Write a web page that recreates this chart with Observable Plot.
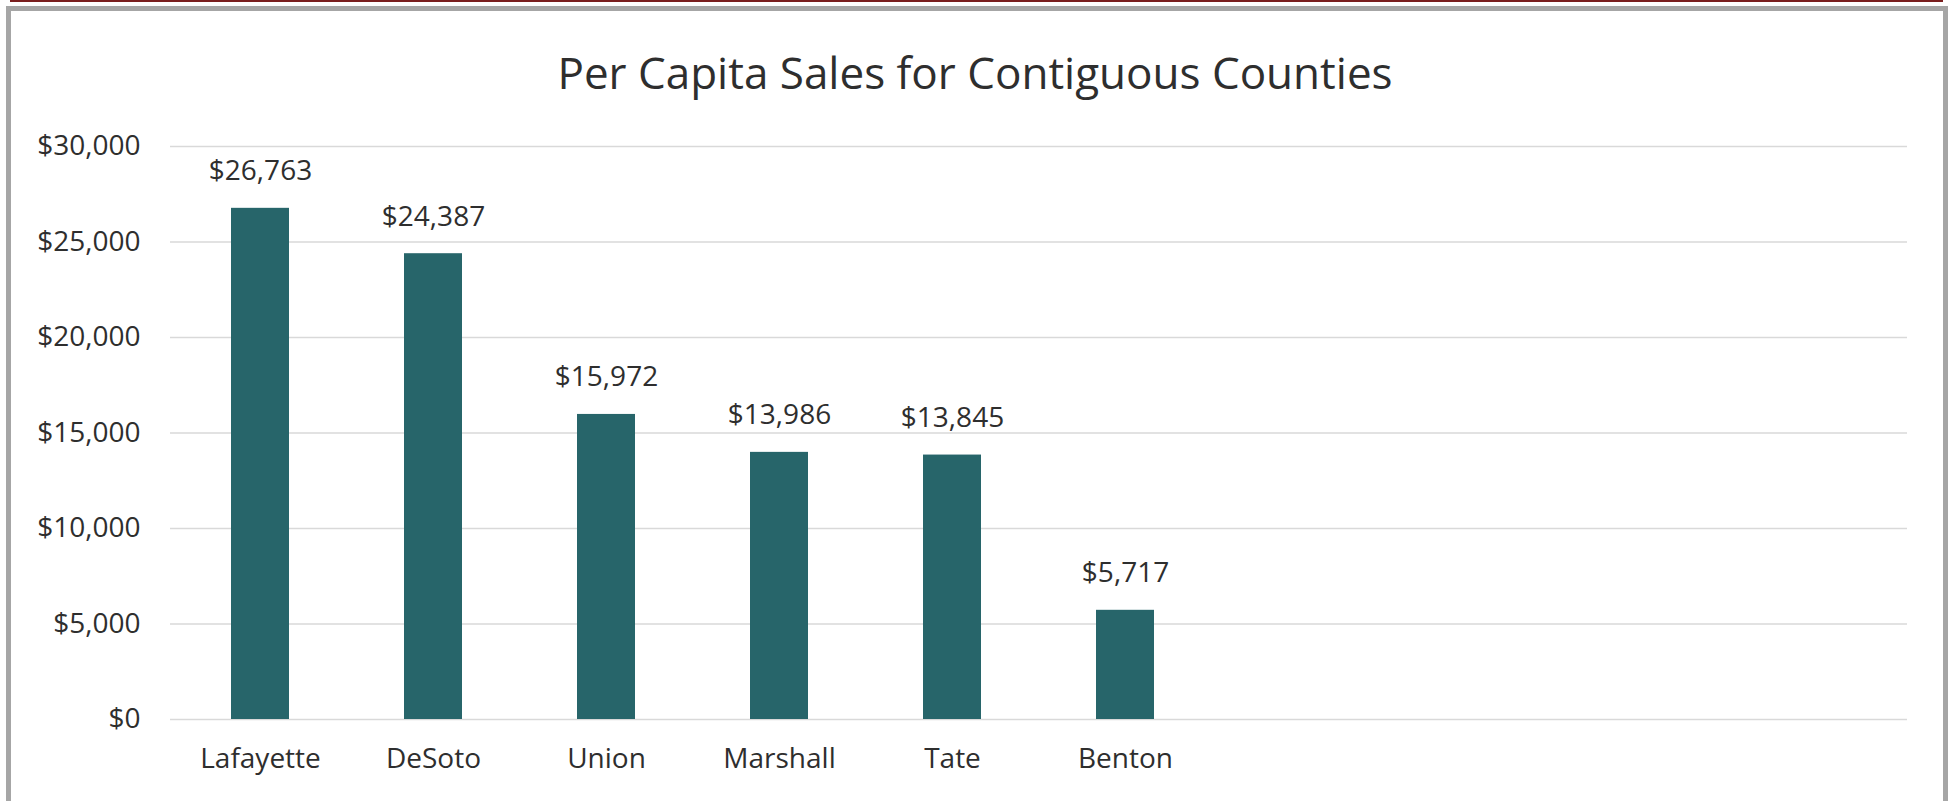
<!DOCTYPE html>
<html>
<head>
<meta charset="utf-8">
<script src="https://cdn.jsdelivr.net/npm/d3@7"></script>
<script src="https://cdn.jsdelivr.net/npm/@observablehq/plot@0.6"></script>
<style>
  html, body { margin: 0; padding: 0; background: #ffffff; }
  body { width: 1953px; height: 801px; overflow: hidden; position: relative; font-family: "Open Sans", sans-serif; }
  #topline { position: absolute; left: 10px; top: 0; width: 1933px; height: 2px; background: #7a1f1f; }
  #frame { position: absolute; left: 6px; top: 6px; width: 1932px; height: 900px; border: 5px solid #a6a6a6; border-bottom: none; box-sizing: content-box; }
  #title { position: absolute; left: 0; width: 1950px; top: 44px; text-align: center; font-size: 44px; line-height: 56px; color: #2e2e2e; white-space: nowrap; }
  #chart { position: absolute; left: 0; top: 100px; }
</style>
</head>
<body>
<div id="topline"></div>
<div id="frame"></div>
<div id="title">Per Capita Sales for Contiguous Counties</div>
<div id="chart"></div>
<script>
const counties = ["Lafayette", "DeSoto", "Union", "Marshall", "Tate", "Benton"];
const sales = [26763, 24387, 15972, 13986, 13845, 5717];
const emptySlots = ["slot7", "slot8", "slot9", "slot10"];
const yTicks = [0, 5000, 10000, 15000, 20000, 25000, 30000];

const data = counties.map((c, i) => ({county: c, value: sales[i]}));
const fmt = d3.format("$,");

const chart = Plot.plot({
  width: 1953,
  height: 701,
  marginLeft: 170,
  marginRight: 46,
  marginTop: 46,
  marginBottom: 82,
  style: {fontFamily: "Open Sans, sans-serif", fontSize: "28px", color: "#2e2e2e", background: "transparent", overflow: "visible"},
  x: {
    domain: [...counties, ...emptySlots],
    paddingInner: 0.666,
    paddingOuter: 0.333,
    label: null,
    tickSize: 0,
    tickPadding: 29,
    tickFormat: d => counties.includes(d) ? d : ""
  },
  y: {
    domain: [0, 30000],
    ticks: yTicks,
    tickFormat: fmt,
    label: null,
    tickSize: 0,
    tickPadding: 30
  },
  marks: [
    Plot.ruleY(yTicks, {stroke: "#d9d9d9", strokeWidth: 1.5}),
    Plot.barY(data, {x: "county", y: "value", fill: "#27656a"}),
    Plot.text(data, {x: "county", y: "value", text: d => fmt(d.value), dy: -37, fill: "#2e2e2e"})
  ]
});
document.getElementById("chart").appendChild(chart);
</script>
</body>
</html>
